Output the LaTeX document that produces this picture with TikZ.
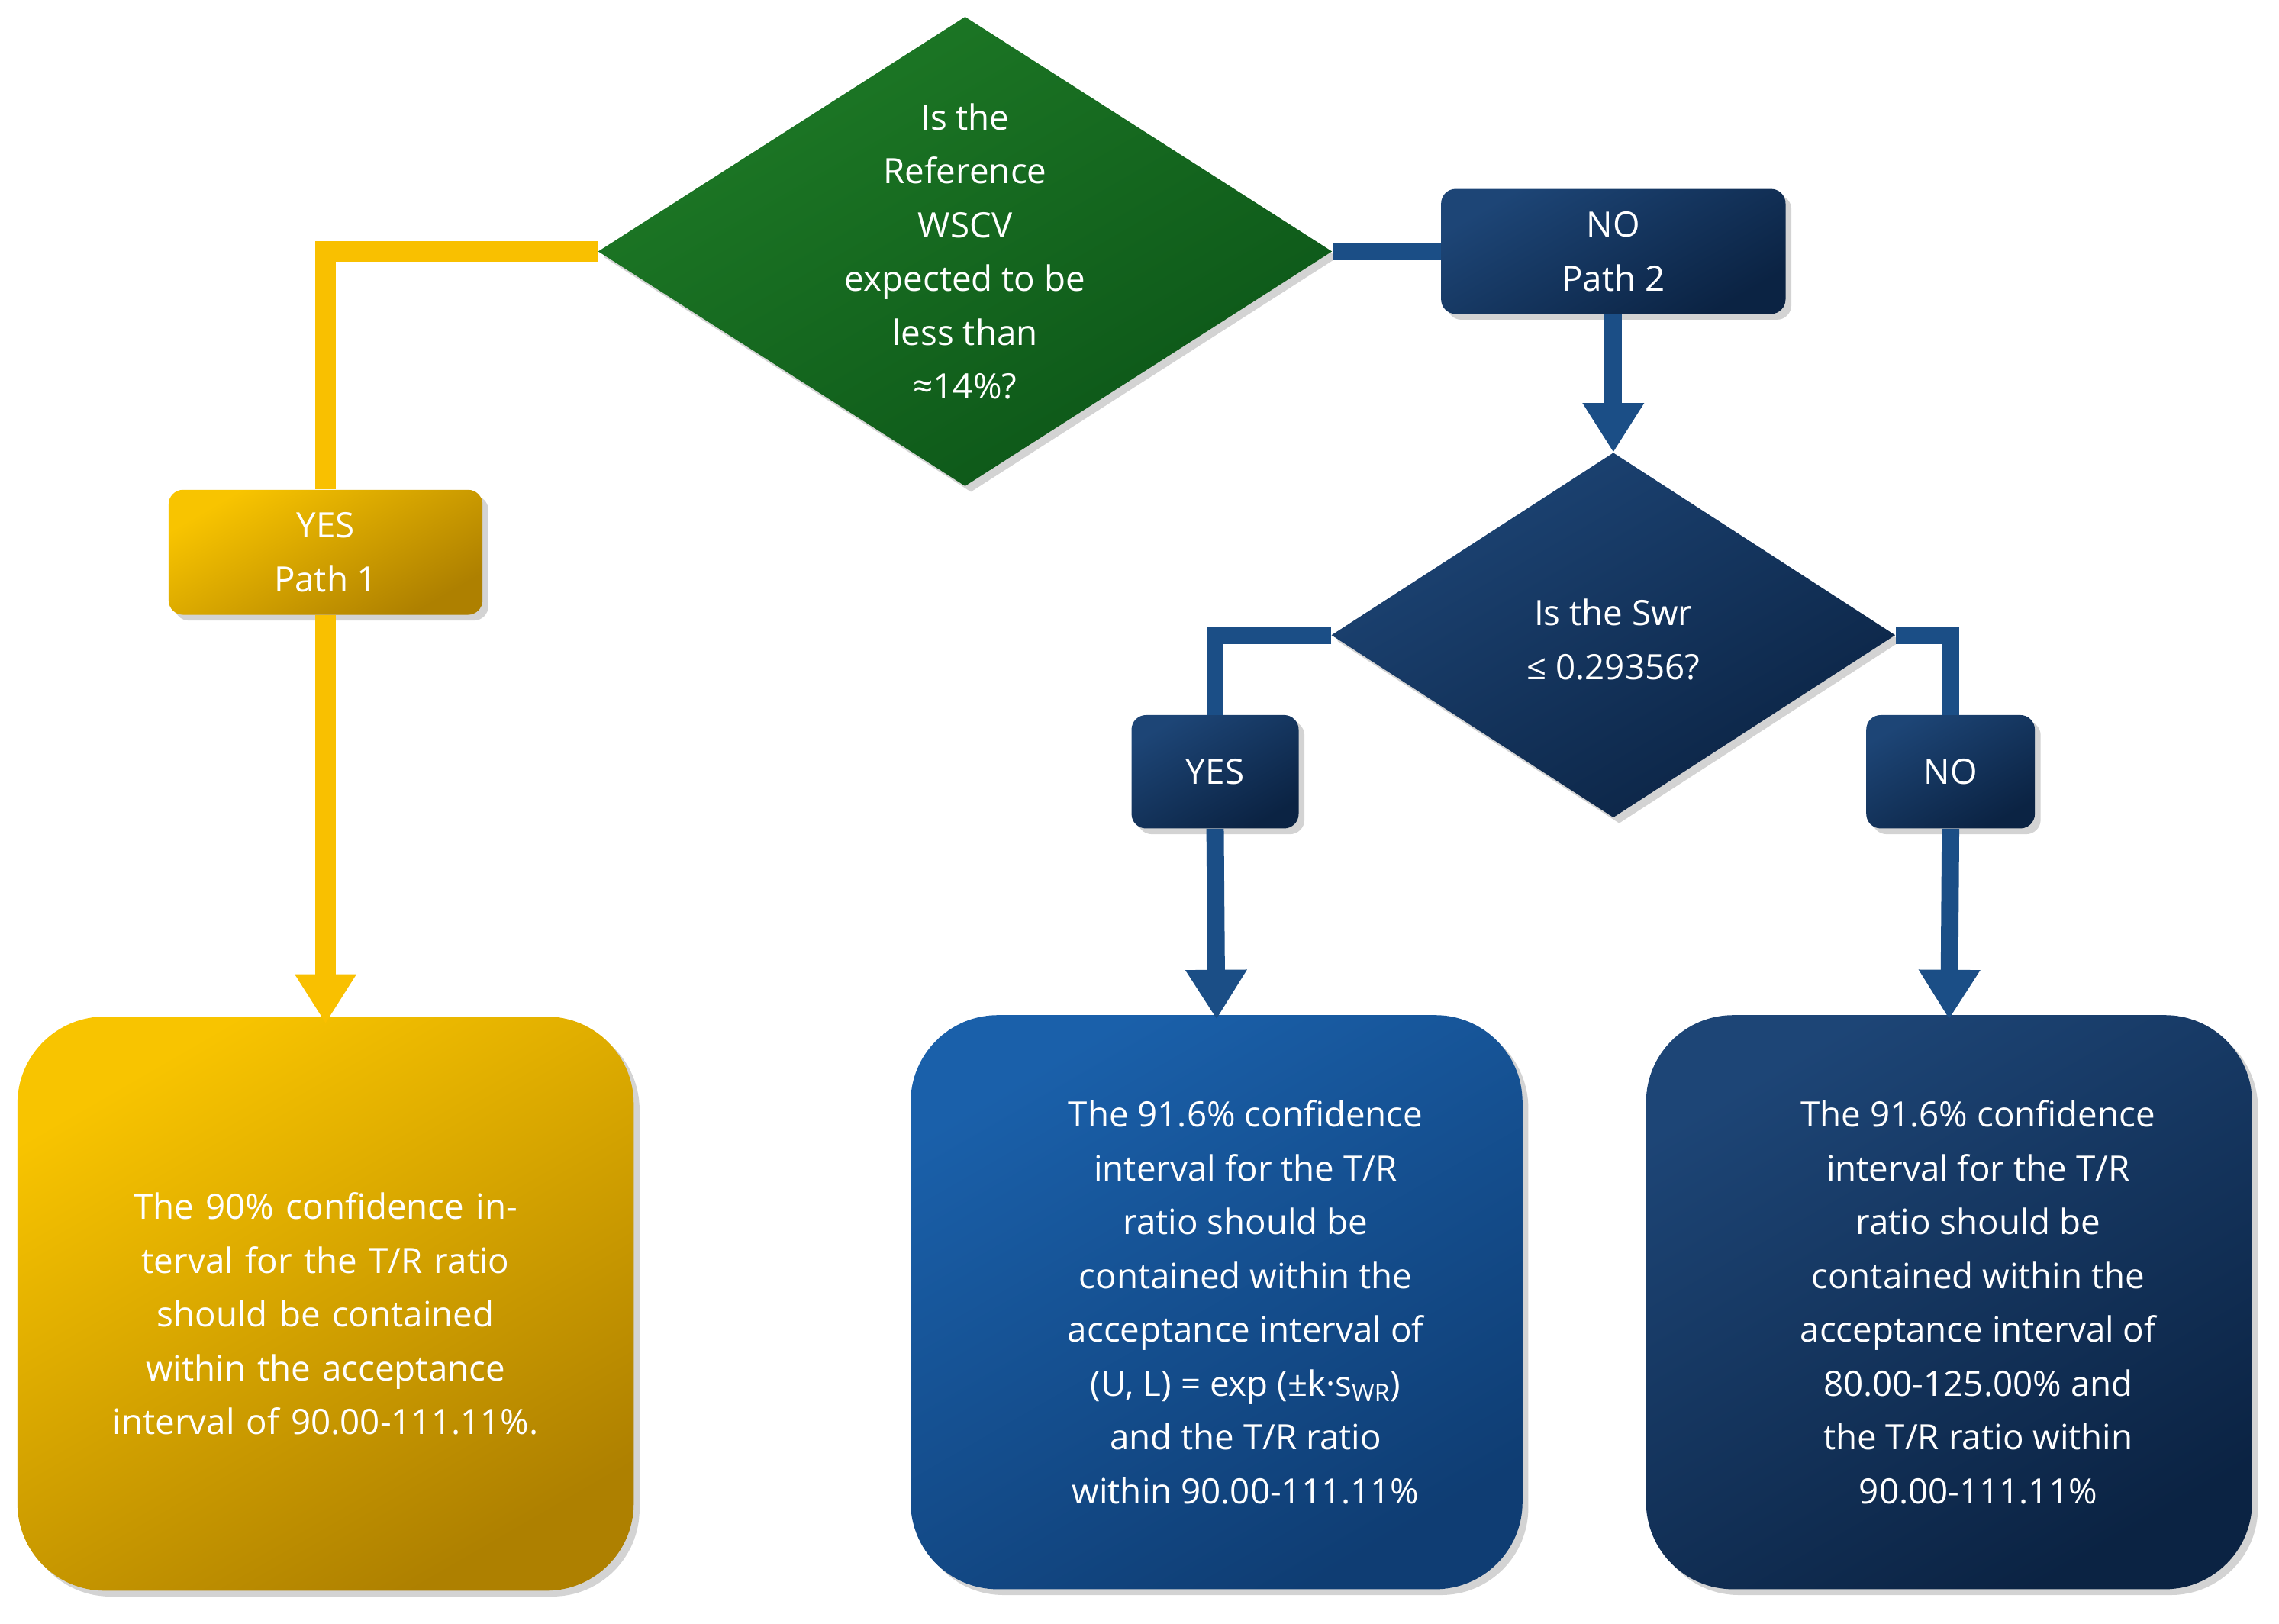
\documentclass[tikz,border=0pt]{standalone}
\usepackage{fontspec}
\setmainfont{Open Sans}
\usetikzlibrary{shapes.geometric,shadows,arrows.meta}
\definecolor{yl}{HTML}{F8C400}\definecolor{yd}{HTML}{AE8000}
\definecolor{gl}{HTML}{1E7A26}\definecolor{gd}{HTML}{0C5518}
\definecolor{bl}{HTML}{1A60AA}\definecolor{bd}{HTML}{0F3D73}
\definecolor{nl}{HTML}{1D4576}\definecolor{nd}{HTML}{0B2343}
\definecolor{ln}{HTML}{F9C000}\definecolor{lb}{HTML}{1B4E86}
\begin{document}
\begin{tikzpicture}[x=1pt,y=-1pt,
 txt/.style={text=white,font=\fontsize{24}{37}\selectfont,align=center},
 sh/.style={drop shadow={shadow xshift=4pt,shadow yshift=-4pt,opacity=0.35}},
 box/.style={txt,sh,rounded corners=10pt,inner sep=0pt},
 big/.style={txt,sh,rounded corners=60pt,inner sep=0pt},
 dia/.style={txt,sh,diamond,inner sep=0pt},
 ycol/.style={top color=yl,bottom color=yd,shading angle=30},
 gcol/.style={top color=gl,bottom color=gd,shading angle=30},
 bcol/.style={top color=bl,bottom color=bd,shading angle=30},
 ncol/.style={top color=nl,bottom color=nd,shading angle=30},
 yline/.style={ln,line width=14pt},
 bline/.style={lb,line width=12pt},
 arr/.style={-{Triangle[width=40pt,length=34pt]}}]
\useasboundingbox (0,0) rectangle (1568,1117);
% diamonds
\node[dia,gcol,minimum width=505pt,minimum height=323pt] (d1) at (664,173) {};
\node[txt] at (664,173) {Is the\\Reference\\WSCV\\expected to be\\less than\\≈14\%?};
\node[dia,ncol,minimum width=388pt,minimum height=251pt] (d2) at (1110,437) {};
\node[txt] at (1110,440) {Is the Swr\\≤ 0.29356?};
% small boxes
\node[box,ycol,minimum width=216pt,minimum height=86pt] (y1) at (224,380) {YES\\Path 1};
\node[box,ncol,minimum width=237pt,minimum height=86pt] (n1) at (1110,173) {NO\\Path 2};
\node[box,ncol,minimum width=115pt,minimum height=78pt] (y2) at (836,531) {YES};
\node[box,ncol,minimum width=116pt,minimum height=78pt] (n2) at (1342,531) {NO};
% big boxes
\node[big,ycol,minimum width=424pt,minimum height=395pt] (b1) at (224,897) {};
\node[txt,text width=330pt] at (224,904) {The 90\% confidence interval for the T/R ratio should be contained within the acceptance interval of 90.00-111.11\%.};
\node[big,bcol,minimum width=421pt,minimum height=395pt] (b2) at (837,896) {};
\node[txt] at (857,896) {The 91.6\% confidence\\interval for the T/R\\ratio should be\\contained within the\\acceptance interval of\\(U, L) = exp (±k·s\textsubscript{WR})\\and the T/R ratio\\within 90.00-111.11\%};
\node[big,ncol,minimum width=417pt,minimum height=395pt] (b3) at (1341,896) {};
\node[txt] at (1361,896) {The 91.6\% confidence\\interval for the T/R\\ratio should be\\contained within the\\acceptance interval of\\80.00-125.00\% and\\the T/R ratio within\\90.00-111.11\%};
% connectors
\begin{scope}[on background layer/.try]
\end{scope}
\draw[yline] (d1.west) -| (y1.north);
\draw[yline,arr] (y1.south) -- ([yshift=-5pt]b1.north);
\draw[bline] (d1.east) -- (n1.west);
\draw[bline,arr] (n1.south) -- (d2.north);
\draw[bline] (d2.west) -| (y2.north);
\draw[bline] (d2.east) -| (n2.north);
\draw[bline,arr] (y2.south) -- ([yshift=-3pt]b2.north);
\draw[bline,arr] (n2.south) -- ([yshift=-3pt]b3.north);
\end{tikzpicture}
\end{document}
